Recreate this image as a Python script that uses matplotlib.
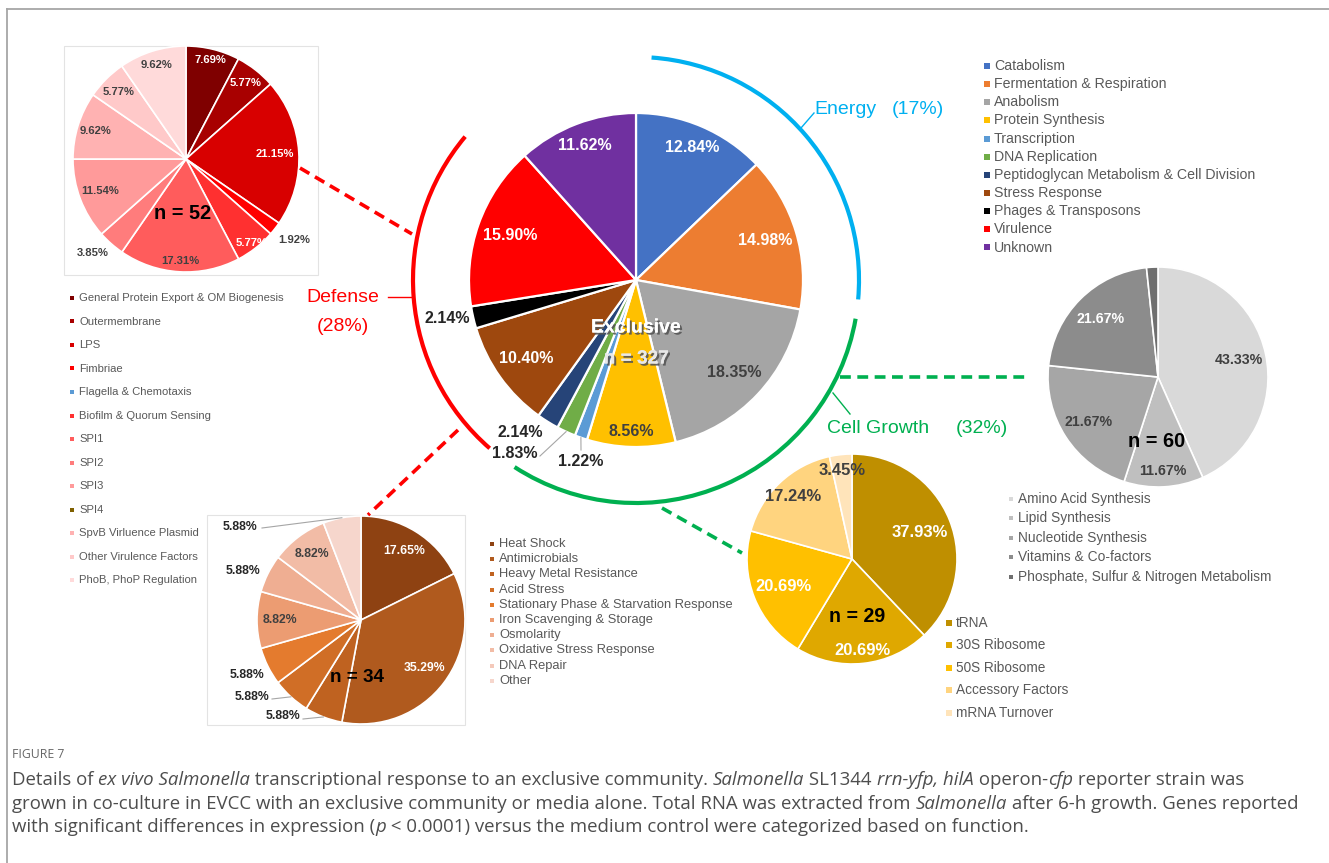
import numpy as np
import matplotlib
matplotlib.use("Agg")
import matplotlib.pyplot as plt
from matplotlib.patches import Arc, Rectangle
import matplotlib.patheffects as pe

plt.rcParams['font.family'] = ['Liberation Sans', 'DejaVu Sans']

W, H = 1329, 863

# main pie (Exclusive, n = 327)
main_cats = ["Catabolism", "Fermentation & Respiration", "Anabolism", "Protein Synthesis",
             "Transcription", "DNA Replication", "Peptidoglycan Metabolism & Cell Division",
             "Stress Response", "Phages & Transposons", "Virulence", "Unknown"]
main_vals = [12.84, 14.98, 18.35, 8.56, 1.22, 1.83, 2.14, 10.40, 2.14, 15.90, 11.62]
main_cols = ["#4472C4", "#ED7D31", "#A5A5A5", "#FFC000", "#5B9BD5", "#70AD47",
             "#264478", "#9E480E", "#000000", "#FF0000", "#7030A0"]

# virulence / defense (n = 52)
def_cats = ["General Protein Export & OM Biogenesis", "Outermembrane", "LPS", "Fimbriae",
            "Flagella & Chemotaxis", "Biofilm & Quorum Sensing", "SPI1", "SPI2", "SPI3", "SPI4",
            "SpvB Virluence Plasmid", "Other Virulence Factors", "PhoB, PhoP Regulation"]
def_vals = [7.69, 5.77, 21.15, 1.92, 0, 5.77, 17.31, 3.85, 11.54, 0, 9.62, 5.77, 9.62]
def_cols = ["#7F0000", "#A80000", "#D80000", "#FF0000", "#5B9BD5", "#FF3030", "#FF5C5C",
            "#FF7C7C", "#FF9A9A", "#7F6000", "#FFB2B2", "#FFC9C9", "#FFDADA"]

# stress response (n = 34)
str_cats = ["Heat Shock", "Antimicrobials", "Heavy Metal Resistance", "Acid Stress",
            "Stationary Phase & Starvation Response", "Iron Scavenging & Storage", "Osmolarity",
            "Oxidative Stress Response", "DNA Repair", "Other"]
str_vals = [17.65, 35.29, 5.88, 5.88, 5.88, 8.82, 5.88, 8.82, 0, 5.88]
str_cols = ["#8E4212", "#B05A1E", "#BF6220", "#D06E26", "#E47B2E", "#EC9C72",
            "#EFAE92", "#F2BCA6", "#F4C9BA", "#F6D6CC"]

# protein synthesis (n = 29)
prot_cats = ["tRNA", "30S Ribosome", "50S Ribosome", "Accessory Factors", "mRNA Turnover"]
prot_vals = [37.93, 20.69, 20.69, 17.24, 3.45]
prot_cols = ["#BF8F00", "#DFA800", "#FFC000", "#FFD47F", "#FFE4BA"]

# anabolism (n = 60)
ana_cats = ["Amino Acid Synthesis", "Lipid Synthesis", "Nucleotide Synthesis",
            "Vitamins & Co-factors", "Phosphate, Sulfur & Nitrogen Metabolism"]
ana_vals = [43.33, 11.67, 21.67, 21.67, 1.67]
ana_cols = ["#D9D9D9", "#BFBFBF", "#A6A6A6", "#8C8C8C", "#6F6F6F"]

DARK = "#404040"
OUT = "#262626"
LEG = "#595959"

fig = plt.figure(figsize=(W / 100, H / 100), dpi=100)
ax = fig.add_axes([0, 0, 1, 1])


def pie(vals, cols, cx, cy, r, fs, tcols, spots, lw=1.2):
    keep = [i for i, v in enumerate(vals) if v > 0]
    wedges, _ = ax.pie([vals[i] for i in keep], colors=[cols[i] for i in keep],
                       startangle=-90, counterclock=True, center=(cx, cy), radius=r,
                       wedgeprops=dict(edgecolor="white", linewidth=lw))
    for w, i, tc, sp in zip(wedges, keep, tcols, spots):
        a = np.deg2rad((w.theta1 + w.theta2) / 2)
        if np.isscalar(sp):
            x, y = cx + sp * r * np.cos(a), cy + sp * r * np.sin(a)
        else:
            x, y = sp
        ax.text(x, y, f"{vals[i]:.2f}%", fontsize=fs, fontweight="bold", color=tc,
                ha="center", va="center", zorder=4)
    return wedges


def lead(w, cx, cy, r, end):
    a = np.deg2rad((w.theta1 + w.theta2) / 2)
    ax.plot([cx + r * np.cos(a), end[0]], [cy + r * np.sin(a), end[1]],
            color="#A6A6A6", lw=0.8, zorder=3)


def legend(cats, cols, x, y0, dy, fs, ms):
    for k, (c, col) in enumerate(zip(cats, cols)):
        y = y0 + k * dy
        ax.scatter([x], [y], marker="s", s=ms, color=col, linewidths=0, zorder=4)
        ax.text(x + 7, y, c, fontsize=fs, color=LEG, ha="left", va="center")


# faint boxes behind the small pies
for (x0, y0, x1, y1) in [(64, 46, 318, 275), (207, 515, 465, 725)]:
    ax.add_patch(Rectangle((x0, y0), x1 - x0, y1 - y0, fill=False, ec="#E3E3E3", lw=0.8))

# main pie
MX, MY, MR = 636, 280, 167
w = pie(main_vals, main_cols, MX, MY, MR, 11.5,
        ["white", "white", DARK, DARK, OUT, OUT, OUT, "white", OUT, "white", "white"],
        [0.86, 0.81, 0.81, 0.91, (581, 461), (515, 453), (520, 432), 0.81, (447, 318), 0.80, 0.86],
        lw=1.6)
lead(w[4], MX, MY, MR, (581, 450))
lead(w[5], MX, MY, MR, (540, 456))
shadow = [pe.withSimplePatchShadow(offset=(1.5, -1.5), shadow_rgbFace="#555555", alpha=0.9), pe.Normal()]
ax.text(MX, 328, "Exclusive", fontsize=14, fontweight="bold", color="white",
        ha="center", va="center", path_effects=shadow, zorder=5)
ax.text(MX, 359, "n = 327", fontsize=13.7, fontweight="bold", color="#E8E8E8",
        ha="center", va="center", path_effects=shadow, zorder=5)

# arcs around the main pie
AR = 446
ax.add_patch(Arc((MX, MY), AR, AR, theta1=-86, theta2=5, color="#00B0F0", lw=3))
ax.add_patch(Arc((MX, MY), AR, AR, theta1=10, theta2=123, color="#00B050", lw=3))
ax.add_patch(Arc((MX, MY), AR, AR, theta1=131, theta2=220, color="#FF0000", lw=3))
ax.plot([388, 411], [297, 297], color="#FF0000", lw=1)
ax.plot([833, 850], [393, 414], color="#00B050", lw=1)
ax.plot([801, 814], [128, 113], color="#00B0F0", lw=1)
ax.text(845, 110, "Energy", fontsize=14, color="#00B0F0", ha="center", va="center")
ax.text(918, 110, "(17%)", fontsize=14, color="#00B0F0", ha="center", va="center")
ax.text(343, 297, "Defense", fontsize=14, color="#FF0000", ha="center", va="center")
ax.text(343, 326, "(28%)", fontsize=14, color="#FF0000", ha="center", va="center")
ax.text(878, 428, "Cell Growth", fontsize=14, color="#00B050", ha="center", va="center")
ax.text(982, 428, "(32%)", fontsize=14, color="#00B050", ha="center", va="center")

# dashed connectors
dash = dict(lw=2.6, linestyle=(0, (3, 1.8)))
ax.plot([300, 412], [168, 234], color="#FF0000", **dash)
ax.plot([458, 368], [430, 515], color="#FF0000", **dash)
ax.plot([840, 1027], [377, 377], color="#00B050", **dash)
ax.plot([662, 742], [508, 553], color="#00B050", **dash)

# defense pie
DX, DY, DR = 186, 159, 113
pie(def_vals, def_cols, DX, DY, DR, 8.1,
    ["white", "white", "white", DARK, "white", DARK, DARK, DARK, DARK, DARK, DARK],
    [0.9, 0.85, 0.79, (294, 240), 0.94, 0.9, (93, 253), 0.81, 0.84, 0.84, 0.87])
ax.text(183, 213, "n = 52", fontsize=14.3, fontweight="bold", color="black", ha="center", va="center", zorder=5)
legend(def_cats, def_cols, 72, 298, 23.5, 8.1, 9)

# stress pie
SX, SY, SR = 361, 620, 104
w = pie(str_vals, str_cols, SX, SY, SR, 8.8,
        ["white", "white", OUT, OUT, OUT, DARK, OUT, DARK, OUT],
        [0.78, 0.76, (283, 716), (252, 697), (247, 675), 0.78, (243, 571), 0.79, (240, 527)])
lead(w[8], SX, SY, SR, (262, 528))
lead(w[2], SX, SY, SR, (303, 719))
lead(w[3], SX, SY, SR, (272, 699))
ax.text(357, 677, "n = 34", fontsize=13.6, fontweight="bold", color="black", ha="center", va="center", zorder=5)
legend(str_cats, str_cols, 492, 544, 15.2, 9.3, 12)

# protein synthesis pie
PX, PY, PR = 852, 559, 105
pie(prot_vals, prot_cols, PX, PY, PR, 11.9,
    ["white", "white", "white", DARK, DARK], [0.69, 0.88, 0.7, 0.82, 0.85])
ax.text(857, 616, "n = 29", fontsize=14.1, fontweight="bold", color="black", ha="center", va="center", zorder=5)
legend(prot_cats, prot_cols, 949, 623, 22.4, 9.8, 13)

# anabolism pie
NX, NY, NR = 1158, 377, 110
pie(ana_vals, ana_cols, NX, NY, NR, 10.2,
    [DARK, DARK, DARK, "white", DARK], [0.75, 0.86, 0.75, 0.74, (1150, 262)])
ax.add_patch(Rectangle((1100, 236), 100, 30, color="white", zorder=6))
ax.text(1157, 441, "n = 60", fontsize=14.3, fontweight="bold", color="black", ha="center", va="center", zorder=5)
legend(ana_cats, ana_cols, 1011, 499, 19.4, 9.9, 12)

# main legend
legend(main_cats, main_cols, 987, 66, 18.15, 10.2, 14)

# frame
ax.plot([7, W], [9, 9], color="#A6A6A6", lw=1.3)
ax.plot([7, 7], [9, H], color="#A6A6A6", lw=1.3)

ax.set_xlim(0, W)
ax.set_ylim(H, 0)
ax.set_aspect("auto")
ax.axis("off")

# caption
cap_font = ["Open Sans", "DejaVu Sans"]
cap_col = "#4D4D4D"
line1 = [("Details of ", False), ("ex vivo Salmonella", True),
         (" transcriptional response to an exclusive community. ", False), ("Salmonella", True),
         (" SL1344 ", False), ("rrn-yfp, hilA", True), (" operon-", False), ("cfp", True),
         (" reporter strain was", False)]
line2 = [("grown in co-culture in EVCC with an exclusive community or media alone. Total RNA was extracted from ", False),
         ("Salmonella", True), (" after 6-h growth. Genes reported", False)]
line3 = [("with significant differences in expression (", False), ("p", True),
         (" < 0.0001) versus the medium control were categorized based on function.", False)]

fig.canvas.draw()
rend = fig.canvas.get_renderer()


def seg_width(txt, ital, fs):
    a = ax.text(0, 0, txt + "|", fontsize=fs, family=cap_font, style="italic" if ital else "normal")
    b = ax.text(0, 0, "|", fontsize=fs, family=cap_font, style="italic" if ital else "normal")
    wd = a.get_window_extent(renderer=rend).width - b.get_window_extent(renderer=rend).width
    a.remove()
    b.remove()
    return wd


base = 10
w2 = sum(seg_width(t, i, base) for t, i in line2)
cap_fs = base * 1284 / w2


def rich(x, y, parts):
    for t, i in parts:
        ax.text(x, y, t, fontsize=cap_fs, family=cap_font, style="italic" if i else "normal",
                color=cap_col, ha="left", va="baseline")
        x += seg_width(t, i, cap_fs)


ax.text(12, 758, "FIGURE 7", fontsize=8.8, family=cap_font, color="#666666", ha="left", va="baseline")
rich(12, 785, line1)
rich(12, 809, line2)
rich(12, 832, line3)

fig.savefig("out.png", dpi=100)
